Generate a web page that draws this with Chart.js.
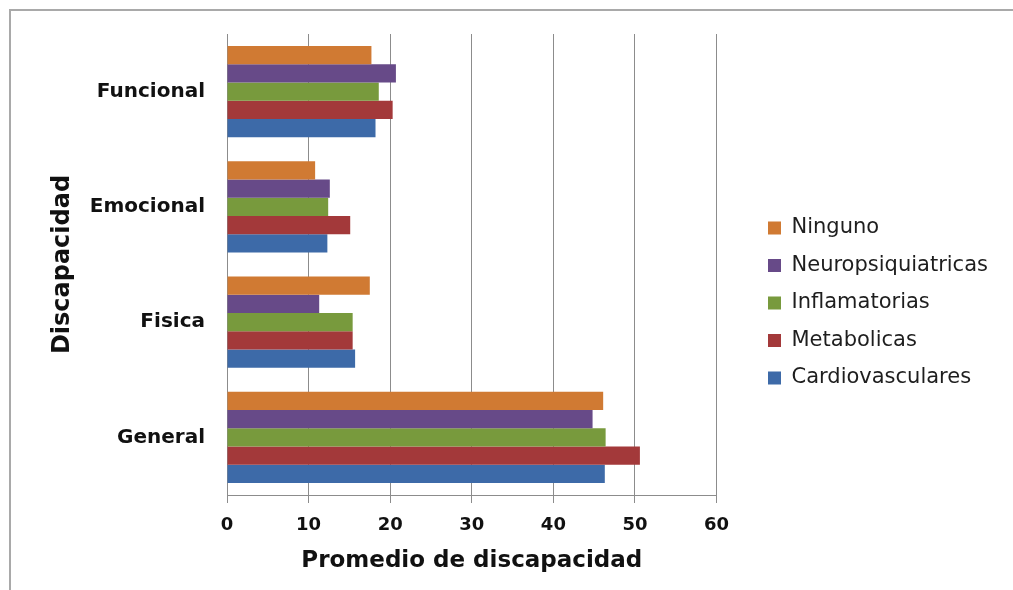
<!DOCTYPE html>
<html>
<head>
<meta charset="utf-8">
<script src="https://cdn.jsdelivr.net/npm/chart.js@4/dist/chart.umd.min.js"></script>
<style>
  html, body { margin: 0; padding: 0; background: #fff; }
  #wrap { position: relative; width: 1013px; height: 590px; overflow: hidden; background: #fff; }
  #frame { position: absolute; left: 9px; top: 9px; width: 1100px; height: 700px;
           border-top: 2px solid #a9a9a9; border-left: 2px solid #a9a9a9; }
  canvas { position: absolute; left: 0; top: 0; }
</style>
</head>
<body>
<div id="wrap">
  <div id="frame"></div>
  <canvas id="chart" width="1013" height="590"></canvas>
</div>
<script>
// Categories (top to bottom) and average disability score per disease group
const categories = ['Funcional', 'Emocional', 'Fisica', 'General'];
const seriesNames = ['Ninguno', 'Neuropsiquiatricas', 'Inflamatorias', 'Metabolicas', 'Cardiovasculares'];
const ninguno            = [17.7, 10.8, 17.5, 46.1];
const neuropsiquiatricas = [20.7, 12.6, 11.3, 44.8];
const inflamatorias      = [18.6, 12.4, 15.4, 46.4];
const metabolicas        = [20.3, 15.1, 15.4, 50.6];
const cardiovasculares   = [18.2, 12.3, 15.7, 46.3];
const xTicks = [0, 10, 20, 30, 40, 50, 60];
const seriesColors = ['#D07A33', '#674A88', '#789A3D', '#A3393A', '#3D6AA8'];

const seriesValues = [ninguno, neuropsiquiatricas, inflamatorias, metabolicas, cardiovasculares];

// Plot geometry
const PLOT_LEFT = 227, PLOT_RIGHT = 716, PLOT_TOP = 29, PLOT_BOTTOM = 495;
const W = 1013, H = 590;

// Legend sizing
const LEGEND_FONT = { family: 'DejaVu Sans', size: 21 };
const LEGEND_PAD = 16.5, LEGEND_BOX = 13;
const mctx = document.createElement('canvas').getContext('2d');
mctx.font = LEGEND_FONT.size + 'px "' + LEGEND_FONT.family + '"';
const maxText = Math.max(...seriesNames.map(s => mctx.measureText(s).width));
const legendWidth = LEGEND_PAD + LEGEND_BOX + LEGEND_FONT.size / 2 + maxText + 10 - 7;

// Moves the legend block away from the plot area
const legendOffset = {
  id: 'legendOffset',
  afterLayout(chart) {
    const lg = chart.legend;
    const dx = 768 - (lg.left + LEGEND_PAD);
    const dy = -6.5;
    lg.left += dx; lg.right += dx; lg.top += dy; lg.bottom += dy;
  }
};

const gridColor = '#8c8c8c';

new Chart(document.getElementById('chart'), {
  type: 'bar',
  data: {
    labels: categories,
    datasets: seriesNames.map((name, i) => ({
      label: name,
      data: seriesValues[i],
      backgroundColor: seriesColors[i],
      borderWidth: 0,
      categoryPercentage: 0.79,
      barPercentage: 1.0
    }))
  },
  options: {
    indexAxis: 'y',
    responsive: false,
    animation: false,
    layout: {
      padding: { left: 0, top: PLOT_TOP, bottom: 0, right: W - PLOT_RIGHT - legendWidth }
    },
    plugins: {
      tooltip: { enabled: false },
      legend: {
        position: 'right',
        align: 'center',
        labels: {
          boxWidth: LEGEND_BOX,
          boxHeight: LEGEND_BOX,
          padding: LEGEND_PAD,
          color: '#1e1e1e',
          font: LEGEND_FONT
        }
      }
    },
    scales: {
      x: {
        min: 0,
        max: 60,
        afterBuildTicks: s => { s.ticks = xTicks.map(v => ({ value: v })); },
        afterFit: s => { s.height = H - PLOT_BOTTOM; },
        grid: { color: gridColor, lineWidth: 1, drawTicks: true, tickLength: 8, tickColor: gridColor },
        border: { display: true, color: gridColor, width: 1 },
        ticks: {
          padding: 12,
          color: '#111',
          font: { family: 'DejaVu Sans', size: 18, weight: 'bold' }
        },
        title: {
          display: true,
          text: 'Promedio de discapacidad',
          color: '#111',
          font: { family: 'DejaVu Sans', size: 23, weight: 'bold' },
          padding: { top: 0, bottom: 15 }
        }
      },
      y: {
        afterFit: s => { s.width = PLOT_LEFT; },
        grid: { display: false, drawTicks: false },
        border: { display: true, color: gridColor, width: 1 },
        ticks: {
          padding: 22,
          color: '#111',
          font: { family: 'DejaVu Sans', size: 20, weight: 'bold' }
        },
        title: {
          display: true,
          text: 'Discapacidad',
          color: '#111',
          font: { family: 'DejaVu Sans', size: 24, weight: 'bold' },
          padding: { top: 48, bottom: 0 }
        }
      }
    }
  },
  plugins: [legendOffset]
});
</script>
</body>
</html>
